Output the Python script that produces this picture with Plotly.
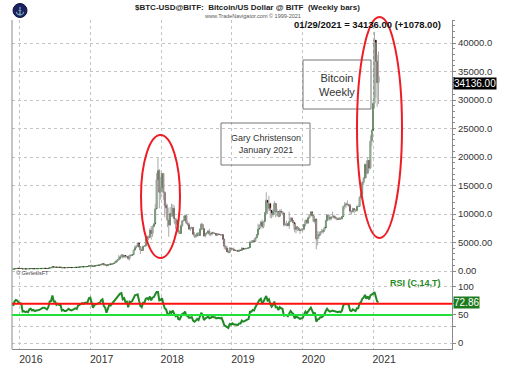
import plotly.graph_objects as go
import pandas as pd

W, H = 505, 377

# ---------------- data (weekly bars, Fridays) ----------------
START_DATE = "2015-11-27"
FIRST_OPEN = 330

close = [
    # 2015
    358, 362, 434, 463, 455,
    # 2016
    434, 453, 375, 385, 378,
    385, 385, 420, 430,
    410, 418, 408, 416,
    417, 420, 430, 448, 455,
    460, 455, 442, 470,
    570, 580, 750, 665,
    675, 640, 665, 651, 655,
    575, 585, 575, 577,
    600, 623, 607, 603, 609,
    618, 638, 632, 690,
    700, 715, 750, 740,
    770, 772, 785, 920, 960,
    # 2017
    890, 820, 895, 920,
    1015, 995, 1050, 1175,
    1275, 1100, 1070, 930, 1080,
    1190, 1180, 1250, 1340,
    1530, 1720, 1960, 2150,
    2480, 2820, 2460, 2710, 2480,
    2560, 2200, 2750, 2740,
    2860, 3670, 4100, 4370,
    4900, 4230, 3700, 3630, 4340,
    4370, 5640, 6010, 5900,
    7150, 6580, 7800, 8250,
    10900, 16000, 17600, 13800, 14600,
    # 2018
    17100, 13800, 11500, 11100,
    8900, 8100, 10100, 9700,
    11000, 9200, 8200, 8900, 6900,
    6600, 7900, 8800, 8900,
    9700, 8400, 8100, 7350,
    7540, 7620, 6450, 6050, 6200,
    6600, 6220, 7330, 8200,
    7420, 6150, 6580, 6700, 7000,
    6450, 6490, 6750, 6640,
    6580, 6270, 6480, 6420,
    6350, 6380, 5580, 4330, 4020,
    3420, 3230, 3970, 3880,
    # 2019
    3850, 3630, 3600, 3580,
    3480, 3660, 3620, 3990,
    3840, 3880, 3960, 4000, 4100,
    5050, 5070, 5310, 5200,
    5800, 6350, 7360, 8050, 8560,
    7800, 8700, 10200, 12400,
    11000, 11800, 10600, 9880,
    10520, 11860, 10360, 10400, 9600,
    10500, 10360, 10170, 8100,
    8150, 8290, 7960, 8660,
    9260, 8800, 8460, 7300, 7740,
    7550, 7190, 7150, 7250,
    # 2020
    7340, 8170, 8900, 8430, 9350,
    9800, 10370, 9680, 8700,
    9120, 5600, 6190, 6370,
    6860, 6870, 7100, 7550,
    8830, 9800, 9380, 9170, 9430,
    9620, 9470, 9300, 9160,
    9090, 9270, 9150, 9550, 11330,
    11600, 11770, 11650, 11500,
    10500, 10380, 10930, 10700,
    10570, 11300, 11320, 12930, 13550,
    15560, 16300, 18670, 17150,
    19370, 18060, 22800, 24700,
    # 2021
    29400, 40500, 36800, 33058, 34136,
]

high = [
    380, 395, 465, 470, 470,
    460, 465, 455, 410, 400,
    395, 395, 425, 440,
    440, 420, 420, 420,
    422, 425, 432, 452, 465,
    466, 462, 456, 480,
    590, 600, 780, 690,
    705, 690, 670, 670, 660,
    660, 600, 590, 585,
    612, 630, 630, 610, 612,
    620, 642, 642, 700,
    745, 730, 755, 760,
    775, 780, 792, 930, 975,
    1150, 910, 910, 930,
    1030, 1060, 1070, 1200,
    1290, 1300, 1250, 1100, 1090,
    1200, 1210, 1260, 1350,
    1570, 1820, 2000, 2790,
    2550, 2980, 2980, 2770, 2620,
    2630, 2660, 2850, 2830,
    2900, 3700, 4480, 4460,
    4980, 4800, 4320, 3880, 4400,
    4470, 5850, 6180, 6220,
    7500, 7900, 8000, 8400,
    11800, 17200, 19800, 17900, 16500,
    17200, 17200, 14000, 12000,
    11700, 9000, 11200, 11800,
    11700, 11500, 9300, 9100, 8900,
    7100, 8200, 8900, 9700,
    9900, 10000, 8800, 8500,
    7700, 7800, 7700, 6800, 6350,
    6800, 6800, 7500, 8450,
    8300, 7500, 6600, 6850, 7200,
    7400, 6600, 6900, 6850,
    6700, 6650, 6650, 6550,
    6480, 6500, 6400, 5600, 4500,
    4400, 3600, 4200, 4220,
    4050, 4100, 3800, 3700,
    3600, 3700, 3720, 4200,
    3900, 3950, 4000, 4100, 4150,
    5300, 5400, 5400, 5600,
    5900, 6400, 8300, 8100, 8800,
    9000, 8800, 10300, 13800,
    12000, 13200, 11100, 10200,
    10900, 12300, 11900, 10900, 10400,
    10800, 10900, 10500, 10300,
    8500, 8800, 8400, 10400,
    9400, 9500, 8900, 8300, 7900,
    7800, 7600, 7400, 7500,
    7550, 8200, 9000, 8900, 9550,
    9900, 10500, 10300, 9700,
    9200, 9100, 7000, 6950,
    7000, 7400, 7300, 7800,
    9000, 10000, 9900, 9800, 9600,
    10400, 9900, 9700, 9500,
    9400, 9350, 9350, 9700, 11450,
    12100, 12000, 12400, 11800,
    11800, 10500, 11100, 11000,
    10900, 11500, 11700, 13100, 13850,
    15750, 16500, 18900, 19400,
    19900, 19400, 23800, 24750,
    29600, 41950, 40100, 37900, 38500,
]

low = [
    315, 350, 385, 430, 445,
    422, 425, 360, 370, 375,
    370, 375, 383, 415,
    405, 405, 405, 410,
    412, 414, 418, 428, 440,
    440, 450, 438, 438,
    465, 560, 580, 560,
    640, 628, 640, 645, 648,
    510, 570, 570, 570,
    570, 600, 600, 595, 600,
    605, 615, 625, 630,
    690, 700, 705, 725,
    735, 760, 765, 785, 890,
    830, 750, 810, 880,
    920, 960, 990, 1050,
    1170, 1000, 960, 900, 940,
    1070, 1150, 1170, 1240,
    1330, 1480, 1650, 1820,
    2130, 2400, 2160, 2380, 2330,
    2420, 1960, 1850, 2550,
    2690, 2890, 3600, 4000,
    4400, 4100, 2980, 3550, 3650,
    4200, 4300, 5550, 5400,
    5900, 5500, 6000, 7700,
    8400, 11000, 14500, 11000, 12500,
    13800, 12500, 9400, 10000,
    7700, 6000, 7900, 9500,
    9400, 8400, 7300, 7700, 6600,
    6500, 6600, 7900, 8700,
    8900, 8300, 8000, 7200,
    7050, 7400, 6300, 5800, 5800,
    6000, 6100, 6200, 7350,
    7300, 6000, 5900, 6300, 6600,
    6200, 6100, 6300, 6500,
    6500, 6100, 6200, 6350,
    6300, 6250, 5400, 3800, 3700,
    3400, 3150, 3200, 3600,
    3700, 3560, 3550, 3450,
    3400, 3400, 3600, 3600,
    3750, 3700, 3800, 3900, 3950,
    4080, 4900, 5000, 5150,
    5100, 5800, 6300, 7500, 7600,
    7450, 7500, 8700, 9800,
    10000, 10500, 9300, 9200,
    9500, 9800, 9400, 9600, 9400,
    9600, 9900, 9800, 7800,
    7900, 7800, 7900, 7400,
    8600, 8700, 8000, 6800, 6600,
    7000, 7000, 6500, 7000,
    6900, 7200, 7800, 8250, 8300,
    9200, 9600, 9550, 8550,
    8300, 3800, 4500, 5700,
    6200, 6700, 6500, 6850,
    7700, 8800, 8900, 8800, 8900,
    9300, 9200, 9050, 8900,
    8900, 9100, 9000, 9100, 9600,
    10800, 11100, 11500, 11200,
    9900, 9900, 10300, 10100,
    10400, 10500, 11200, 11300, 12900,
    13300, 15100, 16200, 16300,
    17000, 17600, 18000, 21900,
    24900, 28500, 30400, 28800, 29300,
]

rsi = [
    66, 74, 77, 76, 72,
    71, 70, 56, 57, 55,
    56, 55, 60, 61,
    58, 59, 57, 58,
    58, 59, 60, 62, 63,
    63, 62, 60, 64,
    74, 75, 85, 74,
    74, 68, 70, 68, 68,
    58, 59, 57, 57,
    59, 61, 59, 58, 59,
    60, 62, 61, 67,
    68, 69, 71, 70,
    72, 72, 73, 80, 81,
    72, 63, 68, 69,
    70, 70, 72, 76,
    78, 66, 63, 54, 63,
    68, 67, 70, 74,
    78, 81, 84, 85,
    88, 89, 78, 80, 73,
    74, 64, 74, 73,
    75, 82, 85, 86,
    87, 76, 66, 64, 72,
    72, 79, 80, 78,
    83, 76, 81, 82,
    87, 91, 91, 76, 77,
    80, 70, 62, 60,
    52, 49, 56, 54,
    58, 52, 48, 51, 43,
    42, 49, 52, 53,
    56, 49, 48, 45,
    46, 46, 40, 38, 40,
    43, 41, 49, 54,
    49, 41, 44, 45, 48,
    44, 45, 47, 46,
    46, 44, 45, 45,
    44, 45, 39, 32, 30,
    28, 27, 34, 33,
    35, 33, 33, 33,
    32, 35, 35, 40,
    38, 39, 40, 41, 43,
    56, 56, 59, 58,
    64, 68, 74, 77, 79,
    70, 74, 79, 84,
    76, 78, 70, 65,
    68, 74, 64, 64, 59,
    64, 62, 61, 49,
    49, 50, 48, 54,
    57, 54, 52, 44, 47,
    46, 44, 43, 44,
    45, 51, 56, 53, 58,
    60, 63, 58, 52,
    54, 38, 42, 43,
    46, 46, 48, 51,
    57, 61, 58, 56, 57,
    58, 57, 56, 55,
    55, 56, 55, 58, 68,
    69, 70, 69, 68,
    58, 57, 60, 58,
    57, 62, 62, 71, 73,
    79, 81, 86, 79,
    83, 78, 85, 86,
    88, 91, 82, 74, 72.86,
]

price_ticks = [0, 5000, 10000, 15000, 20000, 25000, 30000, 35000, 40000]
price_tick_text = ["0.00", "5000.00", "10000.0", "15000.0", "20000.0",
                   "25000.0", "30000.0", "35000.0", "40000.0"]
year_ticks = ["2016-01-01", "2017-01-01", "2018-01-01", "2019-01-01",
              "2020-01-01", "2021-01-01"]
year_text = ["2016", "2017", "2018", "2019", "2020", "2021"]
rsi_ticks = [0, 30, 50, 70, 100]
rsi_tick_text = ["0", "", "50", "", "100"]
RSI_UPPER, RSI_LOWER = 70, 50

LAST_DATE_TEXT = "01/29/2021"
LAST_CLOSE = close[-1]
LAST_CHANGE = close[-1] - close[-2]

assert len(close) == len(high) == len(low) == len(rsi) == 271

dates = pd.date_range(START_DATE, periods=len(close), freq="7D")
opens = [FIRST_OPEN] + close[:-1]
body_hi = [max(o, c) for o, c in zip(opens, close)]
body_lo = [min(o, c) for o, c in zip(opens, close)]

wx, wy = [], []
for d, lo_, hi_ in zip(dates, low, high):
    wx += [d, d, None]
    wy += [lo_, hi_, None]


def px(x):
    return x / W


def py(y):
    return 1 - y / H


FONT = "Liberation Sans, Arial, sans-serif"
GRID = "#c4c4c4"
AX = "#8a8a8a"

fig = go.Figure()
fig.add_trace(go.Scatter(x=wx, y=wy, mode="lines", line=dict(color="#a8a8a8", width=1),
                         hoverinfo="skip", showlegend=False, xaxis="x", yaxis="y"))
fig.add_trace(go.Candlestick(
    x=dates, open=opens, high=body_hi, low=body_lo, close=close,
    increasing=dict(line=dict(color="#1f651f", width=1), fillcolor="#1f651f"),
    decreasing=dict(line=dict(color="#3e0c0c", width=1), fillcolor="#3e0c0c"),
    whiskerwidth=0, showlegend=False, xaxis="x", yaxis="y"))
fig.add_trace(go.Scatter(x=dates, y=rsi, mode="lines", line=dict(color="#1f8a24", width=2),
                         showlegend=False, xaxis="x2", yaxis="y2"))

x_range = ["2015-11-21", "2022-02-13"]
common_x = dict(domain=[px(12), px(452)], range=x_range, type="date",
                tickmode="array", tickvals=year_ticks, showgrid=True, gridcolor=GRID,
                griddash="dot", gridwidth=1, zeroline=False)

fig.update_layout(
    width=W, height=H, margin=dict(l=0, r=0, t=0, b=0),
    paper_bgcolor="white", plot_bgcolor="white",
    font=dict(family=FONT, color="#333333"),
    xaxis=dict(**common_x, anchor="y", showticklabels=False, showline=False,
               rangeslider=dict(visible=False)),
    xaxis2=dict(**common_x, anchor="y2", matches="x", ticktext=year_text,
                showticklabels=True, ticklabelshift=11, showline=True, linecolor=AX,
                ticks="", tickfont=dict(size=10.5, color="#333333")),
    yaxis=dict(domain=[py(276), py(20)], anchor="x", side="right",
               range=[-877, 44035], tickmode="array", tickvals=price_ticks,
               ticktext=price_tick_text, showgrid=True, gridcolor=GRID, griddash="dot",
               zeroline=False, showline=True, linecolor=AX, ticks="outside", ticklen=3,
               tickcolor=AX, tickfont=dict(size=9.5, color="#333333"),
               minor=dict(dtick=1000, ticks="outside", ticklen=2, tickcolor=AX, showgrid=False)),
    yaxis2=dict(domain=[py(349), py(276)], anchor="x2", side="right",
                range=[-10.7, 119.6], tickmode="array", tickvals=rsi_ticks,
                ticktext=rsi_tick_text, showgrid=True, gridcolor=GRID, griddash="dot",
                zeroline=False, showline=True, linecolor=AX, ticks="outside", ticklen=3,
                tickcolor=AX, tickfont=dict(size=9.5, color="#333333")),
)

shapes = [
    # left frame line
    dict(type="line", xref="paper", yref="paper", x0=px(12), x1=px(12), y0=py(20), y1=py(349),
         line=dict(color=AX, width=1)),
    # RSI reference lines
    dict(type="line", xref="paper", yref="y2", x0=px(12), x1=px(452), y0=RSI_UPPER, y1=RSI_UPPER,
         line=dict(color="#ff1010", width=2)),
    dict(type="line", xref="paper", yref="y2", x0=px(12), x1=px(452), y0=RSI_LOWER, y1=RSI_LOWER,
         line=dict(color="#22e03a", width=2)),
    # text boxes
    dict(type="rect", xref="paper", yref="paper", x0=px(221), x1=px(310), y0=py(165), y1=py(123),
         line=dict(color="#777777", width=1)),
    dict(type="rect", xref="paper", yref="paper", x0=px(303), x1=px(371), y0=py(109), y1=py(60),
         line=dict(color="#777777", width=1)),
    # red ellipses
    dict(type="circle", xref="paper", yref="paper", x0=px(141), x1=px(180), y0=py(258), y1=py(135),
         line=dict(color="#ee1c24", width=2)),
    dict(type="circle", xref="paper", yref="paper", x0=px(357), x1=px(402), y0=py(238), y1=py(17),
         line=dict(color="#ee1c24", width=2)),
    # logo
    dict(type="circle", xref="paper", yref="paper", x0=px(13), x1=px(27), y0=py(17.5), y1=py(3.5),
         fillcolor="#1c2260", line=dict(color="#0e1240", width=1)),
]
fig.update_layout(shapes=shapes)

ann = [
    dict(x=px(247), y=py(7.5), text="<b>$BTC-USD@BITF:  Bitcoin/US Dollar @ BITF  (Weekly bars)</b>",
         font=dict(size=8, color="#222222")),
    dict(x=px(252), y=py(15.5), text="www.TradeNavigator.com © 1999-2021",
         font=dict(size=5.5, color="#555555")),
    dict(x=px(443), y=py(24.5), xanchor="right",
         text=f"<b>{LAST_DATE_TEXT} = {LAST_CLOSE:.2f} (+{LAST_CHANGE:.2f})</b>",
         font=dict(size=9.5, color="#111111")),
    dict(x=px(265.5), y=py(144), text="Gary Christenson<br>January 2021",
         font=dict(size=9, color="#333333")),
    dict(x=px(337), y=py(84.5), text="Bitcoin<br>Weekly",
         font=dict(size=11, color="#333333")),
    dict(x=px(443), y=py(283), xanchor="right", text="<b>RSI (C,14,T)</b>",
         font=dict(size=9, color="#1f8a24")),
    dict(x=px(14), y=py(272.5), xanchor="left", text="© GenesisFT",
         font=dict(size=5.5, color="#444444")),
    dict(x=px(20), y=py(10.5), text="⚓", font=dict(size=8, color="#d4a628")),
    dict(x=px(452.5), y=py(83), xanchor="left", text=f"{LAST_CLOSE:.2f}", bgcolor="#000000",
         font=dict(size=10, color="#ffffff"), borderpad=0),
    dict(x=px(452.5), xref="paper", yref="y2", y=rsi[-1], xanchor="left", text=f"{rsi[-1]:.2f}",
         bgcolor="#1e7a1e", font=dict(size=10, color="#ffffff"), borderpad=0),
]
for a in ann:
    a.setdefault("xref", "paper")
    a.setdefault("yref", "paper")
    a.setdefault("showarrow", False)
    a.setdefault("yanchor", "middle")
    a.setdefault("xanchor", "center")
fig.update_layout(annotations=ann)

fig.write_html("out.html", config={"displayModeBar": False},
               post_script="document.body.style.margin='0px';document.body.style.overflow='hidden';")
